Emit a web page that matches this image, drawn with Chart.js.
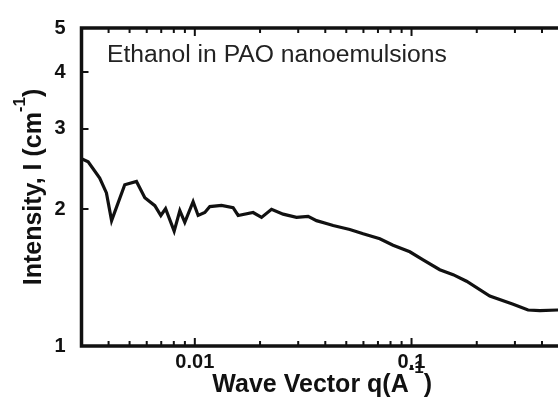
<!DOCTYPE html>
<html>
<head>
<meta charset="utf-8">
<script src="https://cdn.jsdelivr.net/npm/chart.js@4"></script>
<style>
  body { margin: 0; overflow: hidden; background: #fff; }
  #wrap { width: 563px; height: 397px; }
</style>
</head>
<body>
<div id="wrap"><canvas id="saxs-chart"></canvas></div>
<script>
// scattering vector q (1/A) and intensity I (1/cm)
const qValues = [0.003, 0.00322, 0.00364, 0.00391, 0.00413, 0.00475, 0.00538, 0.00588, 0.00654, 0.00697,
  0.00733, 0.00803, 0.00853, 0.00899, 0.00982, 0.01036, 0.01112, 0.01173, 0.01328, 0.01502,
  0.01585, 0.01858, 0.02032, 0.02259, 0.02556, 0.02946, 0.03333, 0.03644, 0.04122, 0.04348,
  0.0519, 0.0598, 0.0714, 0.0822, 0.0982, 0.1131, 0.135, 0.1556, 0.1794, 0.2297,
  0.2944, 0.345, 0.391, 0.473, 0.5];
const intensity = [2.58, 2.54, 2.34, 2.17, 1.886, 2.262, 2.30, 2.117, 2.035, 1.936,
  2.004, 1.788, 1.985, 1.870, 2.076, 1.936, 1.965, 2.025, 2.038, 2.015,
  1.936, 1.965, 1.917, 1.998, 1.949, 1.917, 1.927, 1.886, 1.855, 1.840,
  1.804, 1.765, 1.721, 1.665, 1.611, 1.546, 1.471, 1.435, 1.388, 1.288,
  1.236, 1.200, 1.196, 1.200, 1.200];

const xLabelTicks = [0.01, 0.1];
const xMinorTicks = [0.003, 0.004, 0.005, 0.006, 0.007, 0.008, 0.009,
  0.02, 0.03, 0.04, 0.05, 0.06, 0.07, 0.08, 0.09, 0.2, 0.3, 0.4];
const yLabelTicks = [1, 2, 3, 4, 5];

const points = qValues.map((q, i) => ({ x: q, y: intensity[i] }));

Chart.defaults.font.family = "'Liberation Sans', Arial, sans-serif";
Chart.defaults.color = "#111";

// frame with inward tick marks, like the original plot
const frame = {
  id: "frame",
  afterDatasetsDraw(chart) {
    const { ctx, chartArea: a, scales } = chart;
    const x = scales.x, y = scales.y;
    ctx.save();
    ctx.strokeStyle = "#111";
    ctx.lineWidth = 2;
    ctx.beginPath();
    xMinorTicks.forEach((v) => {
      const px = x.getPixelForValue(v);
      ctx.moveTo(px, a.bottom); ctx.lineTo(px, a.bottom - 5);
      ctx.moveTo(px, a.top); ctx.lineTo(px, a.top + 5);
    });
    xLabelTicks.forEach((v) => {
      const px = x.getPixelForValue(v);
      ctx.moveTo(px, a.bottom); ctx.lineTo(px, a.bottom - 8);
      ctx.moveTo(px, a.top); ctx.lineTo(px, a.top + 8);
    });
    yLabelTicks.forEach((v) => {
      const py = y.getPixelForValue(v);
      ctx.moveTo(a.left, py); ctx.lineTo(a.left + 7, py);
    });
    ctx.stroke();
    ctx.lineWidth = 3.5;
    ctx.beginPath();
    ctx.moveTo(a.right + 2, a.top);
    ctx.lineTo(a.left, a.top);
    ctx.lineTo(a.left, a.bottom);
    ctx.lineTo(a.right + 2, a.bottom);
    ctx.stroke();
    ctx.restore();
  },
};

// axis titles with superscript -1, plus the label inside the plot
const titles = {
  id: "titles",
  afterDraw(chart) {
    const { ctx, chartArea: a } = chart;
    const big = "bold 25px 'Liberation Sans', Arial, sans-serif";
    const sup = "bold 17px 'Liberation Sans', Arial, sans-serif";
    ctx.save();
    ctx.fillStyle = "#111";
    ctx.textBaseline = "alphabetic";

    const drawSup = (pre, post, cx, baseline, rise) => {
      ctx.font = big;
      const w1 = ctx.measureText(pre).width;
      const w3 = ctx.measureText(post).width;
      ctx.font = sup;
      const w2 = ctx.measureText("-1").width;
      let sx = cx - (w1 + w2 + w3) / 2;
      ctx.font = big;
      ctx.textAlign = "left";
      ctx.fillText(pre, sx, baseline);
      ctx.font = sup;
      ctx.fillText("-1", sx + w1, baseline - rise);
      ctx.font = big;
      ctx.fillText(post, sx + w1 + w2, baseline);
    };

    drawSup("Wave Vector q(A", ")", (a.left + a.right) / 2, 392, 19);

    ctx.save();
    ctx.translate(41, (a.top + a.bottom) / 2);
    ctx.rotate(-Math.PI / 2);
    drawSup("Intensity, I (cm", ")", 0, 0, 16);
    ctx.restore();

    ctx.font = "24.7px 'Liberation Sans', Arial, sans-serif";
    ctx.fillStyle = "#222";
    ctx.textAlign = "left";
    ctx.fillText("Ethanol in PAO nanoemulsions", 107, 62);
    ctx.restore();
  },
};

new Chart(document.getElementById("saxs-chart"), {
  type: "line",
  data: {
    datasets: [
      {
        data: points,
        borderColor: "#111",
        borderWidth: 3.2,
        pointRadius: 0,
        tension: 0,
      },
      {
        data: points,
        borderColor: "#fff",
        borderWidth: 1.4,
        borderDash: [5, 2],
        pointRadius: 0,
        tension: 0,
      },
    ],
  },
  options: {
    responsive: true,
    maintainAspectRatio: false,
    animation: false,
    layout: { padding: { top: 22, left: 0, right: 0, bottom: 0 } },
    scales: {
      x: {
        type: "logarithmic",
        min: 0.003,
        max: 0.5,
        grid: { display: false, drawTicks: false },
        border: { display: false },
        afterBuildTicks: (s) => { s.ticks = xLabelTicks.map((v) => ({ value: v })); },
        afterFit: (s) => { s.height = 51; },
        ticks: {
          padding: 4,
          maxRotation: 0,
          font: { size: 20, weight: "bold" },
          callback: (v) => String(v),
        },
      },
      y: {
        type: "logarithmic",
        min: 1,
        max: 5,
        grid: { display: false, drawTicks: false },
        border: { display: false },
        afterBuildTicks: (s) => { s.ticks = yLabelTicks.map((v) => ({ value: v })); },
        afterFit: (s) => { s.width = 81.5; },
        ticks: {
          padding: 16,
          font: { size: 20, weight: "bold" },
          callback: (v) => String(v),
        },
      },
    },
    plugins: {
      legend: { display: false },
      tooltip: { enabled: false },
    },
  },
  plugins: [frame, titles],
});
</script>
</body>
</html>
